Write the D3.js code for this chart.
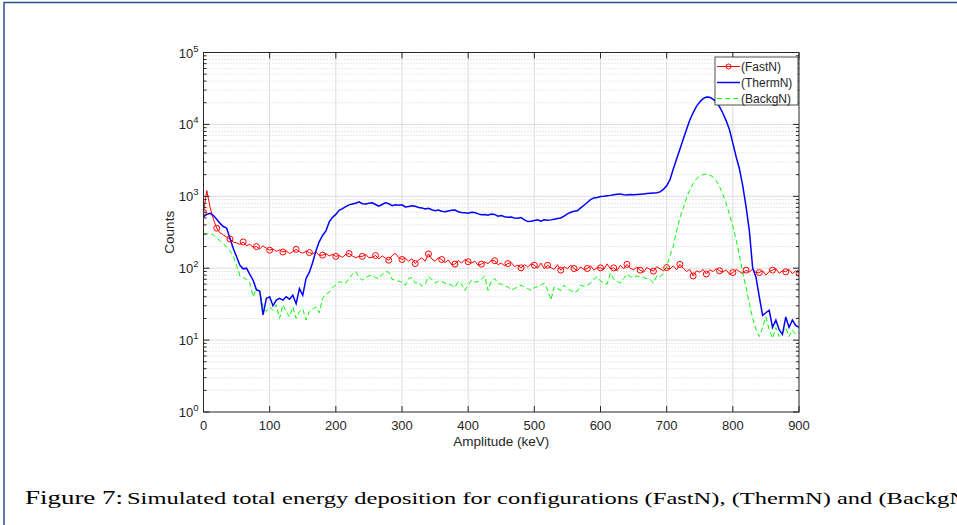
<!DOCTYPE html>
<html>
<head>
<meta charset="utf-8">
<script src="https://cdn.jsdelivr.net/npm/d3@7"></script>
<style>
  html, body { margin: 0; padding: 0; background: #ffffff; }
  svg { display: block; }
  text { font-family: "Liberation Sans", Arial, Helvetica, sans-serif; fill: #262626; }
  .caption { font-family: "Liberation Serif", "Times New Roman", serif; fill: #000; }
</style>
</head>
<body>
<svg id="chart" width="957" height="525"></svg>
<script>
// Energy bins (keV), one sample every 5 keV from 0 to 900
const binStep = 5;
const amplitude = d3.range(0, 900 + binStep / 2, binStep);

// Counts per bin, rows of 100 keV
const fastN = [
  600,1200,700,480,360,310,290,270,255,230,225,215,232,205,215,195,200,185,205,190,
  178,185,172,180,168,175,160,170,183,170,162,172,165,158,168,150,152,160,148,155,
  146,150,142,155,160,148,140,146,146,155,140,142,150,135,148,138,129,150,161,140,
  132,138,125,135,116,130,140,125,158,135,125,140,132,120,130,112,114,128,118,132,
  123,118,125,110,114,122,116,128,127,112,118,108,116,120,105,110,101,112,104,115,
  110,100,118,98,110,102,96,112,94,105,98,110,99,92,104,96,99,108,94,102,
  101,96,115,98,101,92,110,98,113,100,95,104,94,88,102,96,91,105,98,92,
  102,97,108,95,113,100,90,96,78,92,88,96,83,95,90,98,92,88,95,82,
  87,96,90,84,94,88,98,86,87,92,80,90,94,99,85,92,89,96,84,92,85
];
const thermN = [
  520,560,580,540,480,420,380,360,261,188,144,110,98,100,82,68,50,48,22.5,38,
  40,30,36,38,36,40,37,42,32,52,42,72,88,120,175,235,285,330,440,510,
  560,640,675,720,760,780,800,840,790,780,800,810,770,730,770,810,790,740,760,750,
  760,710,720,740,725,700,690,665,680,650,630,645,620,610,625,640,645,610,595,590,
  580,600,595,570,555,560,545,565,560,530,540,520,510,515,500,495,505,470,445,450,
  460,470,450,470,465,470,480,490,500,530,570,600,620,630,690,750,820,900,950,960,
  990,1000,1020,1030,1050,1070,1080,1050,1040,1060,1050,1060,1070,1080,1090,1100,1110,1120,1150,1250,
  1400,1700,2400,3300,4500,6200,8500,11500,14500,17800,20500,22800,24000,23800,22500,20500,17500,14300,11200,8400,
  5500,3550,2400,1400,720,330,100,75,40,22,24,26,15,19,14,12,21,15,19,16,15
];
const backgN = [
  290,300,305,290,265,240,220,195,175,146,110,78,74,70,62,40,52,48,28,25,
  29,26,31,20,31,25,21,29,20,25,27,19,25,27,29,24,38,44,46,54,
  58,65,63,62,72,82,90,76,68,74,78,80,74,72,82,90,88,70,68,66,
  64,58,72,74,62,64,56,60,76,70,62,66,65,62,60,58,54,65,60,49,
  58,68,64,65,70,78,49,66,72,62,60,56,55,50,52,55,58,55,52,49,
  54,55,58,62,50,36,55,52,49,58,52,49,46,48,58,56,58,62,70,76,
  66,62,60,85,70,66,62,72,83,76,74,78,76,74,72,70,62,78,76,85,
  105,150,200,330,500,680,950,1220,1500,1750,1900,2000,2040,1980,1860,1650,1360,1050,800,560,
  380,250,150,85,55,32,20,14,11.2,15,21,14,10.6,15,11.2,13,15,11.2,13.8,12,12.5
];

// Axis ticks
const xTicks = [0, 100, 200, 300, 400, 500, 600, 700, 800, 900];
const yExponents = [0, 1, 2, 3, 4, 5];
const seriesNames = ["(FastN)", "(ThermN)", "(BackgN)"];
const captionLead = "Figure 7:";
const captionText = "Simulated total energy deposition for configurations (FastN), (ThermN) and (BackgN)";

const svg = d3.select("#chart");
const plot = { left: 203.5, right: 799, top: 52.5, bottom: 412 };

const x = d3.scaleLinear().domain([0, 900]).range([plot.left, plot.right]);
const y = d3.scaleLog().domain([1, 1e5]).range([plot.bottom, plot.top]);

// Page frame lines
svg.append("path")
  .attr("d", "M4,525 L4,2.5 L957,2.5")
  .attr("fill", "none").attr("stroke", "#2c5089").attr("stroke-width", 1.5);

// Minor log grid (dotted) and minor ticks
const minorVals = [];
for (let e = 0; e < 5; e++) for (let m = 2; m <= 9; m++) minorVals.push(m * Math.pow(10, e));
const grid = svg.append("g");
grid.selectAll("line.minor").data(minorVals).join("line")
  .attr("x1", plot.left).attr("x2", plot.right)
  .attr("y1", d => y(d)).attr("y2", d => y(d))
  .attr("stroke", "#c8c8c8").attr("stroke-width", 0.8).attr("stroke-dasharray", "1,2");
// Major grid
const majorVals = yExponents.map(e => Math.pow(10, e));
grid.selectAll("line.ymaj").data(majorVals.slice(1, -1)).join("line")
  .attr("x1", plot.left).attr("x2", plot.right)
  .attr("y1", d => y(d)).attr("y2", d => y(d))
  .attr("stroke", "#dcdcdc").attr("stroke-width", 1);
grid.selectAll("line.xmaj").data(xTicks.slice(1, -1)).join("line")
  .attr("x1", d => x(d)).attr("x2", d => x(d))
  .attr("y1", plot.top).attr("y2", plot.bottom)
  .attr("stroke", "#dcdcdc").attr("stroke-width", 1);

// Series
svg.append("clipPath").attr("id", "plotClip")
  .append("rect").attr("x", plot.left).attr("y", plot.top)
  .attr("width", plot.right - plot.left).attr("height", plot.bottom - plot.top);

const lineGen = vals => d3.line()
  .x((d, i) => x(amplitude[i]))
  .y(d => y(d))(vals);

const marks = svg.append("g").attr("clip-path", "url(#plotClip)");
marks.append("path").attr("d", lineGen(backgN))
  .attr("fill", "none").attr("stroke", "#00ff00").attr("stroke-width", 1)
  .attr("stroke-dasharray", "5,3");
marks.append("path").attr("d", lineGen(fastN))
  .attr("fill", "none").attr("stroke", "#ff0000").attr("stroke-width", 1);
marks.append("path").attr("d", lineGen(thermN))
  .attr("fill", "none").attr("stroke", "#0000ff").attr("stroke-width", 1.5);
marks.selectAll("circle.fast")
  .data(fastN.map((v, i) => ({ a: amplitude[i], v })).filter((d, i) => i % 4 === 0))
  .join("circle")
  .attr("cx", d => x(d.a)).attr("cy", d => y(d.v)).attr("r", 3)
  .attr("fill", "none").attr("stroke", "#ff0000").attr("stroke-width", 1);

// Axes box with inward ticks
const axes = svg.append("g");
axes.append("rect")
  .attr("x", plot.left).attr("y", plot.top)
  .attr("width", plot.right - plot.left).attr("height", plot.bottom - plot.top)
  .attr("fill", "none").attr("stroke", "#262626").attr("stroke-width", 1);

const tickLines = [];
xTicks.forEach(t => {
  tickLines.push([x(t), plot.bottom, x(t), plot.bottom - 6]);
  tickLines.push([x(t), plot.top, x(t), plot.top + 6]);
});
majorVals.forEach(v => {
  tickLines.push([plot.left, y(v), plot.left + 6, y(v)]);
  tickLines.push([plot.right, y(v), plot.right - 6, y(v)]);
});
minorVals.forEach(v => {
  tickLines.push([plot.left, y(v), plot.left + 3, y(v)]);
  tickLines.push([plot.right, y(v), plot.right - 3, y(v)]);
});
axes.selectAll("line.tick").data(tickLines).join("line")
  .attr("x1", d => d[0]).attr("y1", d => d[1]).attr("x2", d => d[2]).attr("y2", d => d[3])
  .attr("stroke", "#262626").attr("stroke-width", 1);

// X tick labels
axes.selectAll("text.xt").data(xTicks).join("text")
  .attr("x", d => x(d)).attr("y", plot.bottom + 18)
  .attr("text-anchor", "middle").attr("font-size", 13)
  .text(d => d);

// Y tick labels as powers of ten
const yl = axes.selectAll("text.yt").data(yExponents).join("text")
  .attr("x", plot.left - 5).attr("y", e => y(Math.pow(10, e)) + 5)
  .attr("text-anchor", "end").attr("font-size", 13);
yl.append("tspan").text("10");
yl.append("tspan").attr("dy", -6).attr("font-size", 9.5).text(e => e);

// Axis titles
svg.append("text")
  .attr("x", (plot.left + plot.right) / 2).attr("y", 446)
  .attr("text-anchor", "middle").attr("font-size", 13.5)
  .text("Amplitude (keV)");
svg.append("text")
  .attr("transform", `translate(174,${(plot.top + plot.bottom) / 2}) rotate(-90)`)
  .attr("text-anchor", "middle").attr("font-size", 13.5)
  .text("Counts");

// Legend
const legend = svg.append("g").attr("transform", "translate(715,57)");
legend.append("rect").attr("width", 83).attr("height", 48)
  .attr("fill", "#ffffff").attr("stroke", "#262626").attr("stroke-width", 0.8);
const legendStyles = [
  { color: "#ff0000", width: 1, dash: null, marker: true },
  { color: "#0000ff", width: 1.5, dash: null, marker: false },
  { color: "#00ff00", width: 1, dash: "5,3", marker: false }
];
seriesNames.forEach((name, i) => {
  const cy = 9.5 + i * 16;
  const st = legendStyles[i];
  const ln = legend.append("line").attr("x1", 2).attr("x2", 25).attr("y1", cy).attr("y2", cy)
    .attr("stroke", st.color).attr("stroke-width", st.width);
  if (st.dash) ln.attr("stroke-dasharray", st.dash);
  if (st.marker) legend.append("circle").attr("cx", 13.5).attr("cy", cy).attr("r", 2.5)
    .attr("fill", "none").attr("stroke", st.color);
  legend.append("text").attr("x", 26).attr("y", cy + 4.2)
    .attr("font-size", 12).attr("fill", "#000").text(name);
});

// Caption
svg.append("text").attr("class", "caption")
  .attr("x", 25).attr("y", 503.5).attr("font-size", 19.5)
  .attr("textLength", 98).attr("lengthAdjust", "spacingAndGlyphs")
  .text(captionLead);
svg.append("text").attr("class", "caption")
  .attr("x", 127).attr("y", 503.5).attr("font-size", 16.5)
  .attr("textLength", 848).attr("lengthAdjust", "spacingAndGlyphs")
  .text(captionText);
</script>
</body>
</html>
